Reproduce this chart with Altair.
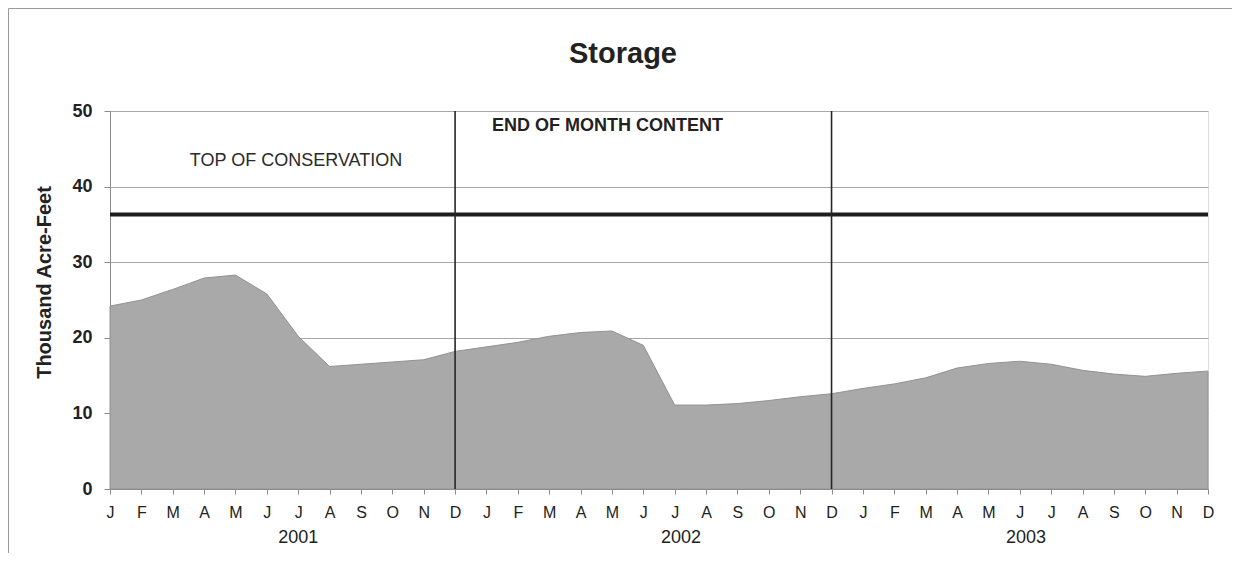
import altair as alt
import pandas as pd

# ---- data ----
months = ["J", "F", "M", "A", "M", "J", "J", "A", "S", "O", "N", "D"]
years = ["2001", "2002", "2003"]
storage = [24.2, 25.0, 26.4, 27.9, 28.3, 25.8, 20.2, 16.2, 16.5, 16.8, 17.1, 18.2,
           18.8, 19.4, 20.2, 20.7, 20.9, 19.0, 11.1, 11.1, 11.3, 11.7, 12.2, 12.6,
           13.3, 13.9, 14.7, 16.0, 16.6, 16.9, 16.5, 15.7, 15.2, 14.9, 15.3, 15.6]
top_of_conservation = 36.3
year_breaks = [11, 23]          # month index of the vertical separators
year_label_pos = [6.0, 18.2, 29.2]
annot_text = ["TOP OF CONSERVATION", "END OF MONTH CONTENT"]
annot_x = [5.93, 12.18]
annot_y = [42.7, 47.4]

FONT = "Liberation Sans"
W, H = 1098, 378

df = pd.DataFrame({"idx": list(range(len(storage))), "value": storage})
df_breaks = pd.DataFrame({"idx": year_breaks})
df_toc = pd.DataFrame({"v": [top_of_conservation]})
df_years = pd.DataFrame({"idx": year_label_pos, "year": years})
df_annot0 = pd.DataFrame({"idx": [annot_x[0]], "v": [annot_y[0]], "t": [annot_text[0]]})
df_annot1 = pd.DataFrame({"idx": [annot_x[1]], "v": [annot_y[1]], "t": [annot_text[1]]})

month_expr = "[" + ",".join(f"'{m}'" for m in months) + "][datum.value % 12]"

xscale = alt.Scale(domain=[0, 35], nice=False, zero=False)
yscale = alt.Scale(domain=[0, 50], nice=False)

x_axis = alt.Axis(values=list(range(36)), labelExpr=month_expr, grid=False,
                  title=None, labelFont=FONT, labelFontSize=16, labelColor="#222",
                  labelPadding=10, tickSize=5, tickColor="#8a8a8a",
                  domainColor="#8a8a8a", labelFlush=False, labelOverlap=False,
                  labelSeparation=0, labelBound=False)
y_axis = alt.Axis(values=[0, 10, 20, 30, 40, 50], title="Thousand Acre-Feet",
                  titleFont=FONT, titleFontSize=20, titleFontWeight="bold",
                  titleColor="#222", titleAngle=-90, titleX=-66, titleY=171,
                  titleAlign="center", titleBaseline="middle",
                  labelFont=FONT, labelFontSize=18, labelFontWeight="bold",
                  labelColor="#222", labelPadding=12, tickSize=6,
                  tickColor="#8a8a8a", domainColor="#8a8a8a",
                  grid=True, gridColor="#a8a8a8", gridWidth=1)


def X(field):
    return alt.X(field, scale=xscale, axis=x_axis)


def Y(field):
    return alt.Y(field, scale=yscale, axis=y_axis)


area = alt.Chart(df).mark_area(color="#a9a9a9", stroke="#929292", strokeWidth=1).encode(
    x=X("idx:Q"), y=Y("value:Q"))

toc = alt.Chart(df_toc).mark_rule(color="#1e1e1e", strokeWidth=4).encode(y=Y("v:Q"))

breaks = alt.Chart(df_breaks).mark_rule(color="#262626", strokeWidth=1.6).encode(x=X("idx:Q"))

annot0 = alt.Chart(df_annot0).mark_text(font=FONT, fontSize=18, color="#2a2a2a",
                                         align="center", baseline="alphabetic").encode(
    x=X("idx:Q"), y=Y("v:Q"), text="t:N")
annot1 = alt.Chart(df_annot1).mark_text(font=FONT, fontSize=18, fontWeight="bold",
                                         color="#222", align="left",
                                         baseline="alphabetic").encode(
    x=X("idx:Q"), y=Y("v:Q"), text="t:N")

year_text = alt.Chart(df_years).mark_text(font=FONT, fontSize=18, color="#222",
                                          align="center", baseline="alphabetic").encode(
    x=X("idx:Q"), y=alt.value(H + 54), text="year:N")

frame = alt.Chart(df_toc).mark_rect(fillOpacity=0, stroke="#9a9a9a", strokeWidth=1).encode(
    x=alt.value(-101.5), x2=alt.value(W + 40), y=alt.value(-102.5), y2=alt.value(H + 68))

chart = alt.layer(frame, area, toc, breaks, annot0, annot1, year_text).properties(
    width=W, height=H,
    title=alt.TitleParams("Storage", font=FONT, fontSize=29, fontWeight="bold",
                          color="#222", anchor="middle", dx=-36, offset=-84,
                          frame="group", baseline="alphabetic"),
    padding={"left": 102, "top": 103, "right": 24, "bottom": 64},
    autosize=alt.AutoSizeParams(type="none"),
).configure_view(stroke="#a8a8a8", strokeWidth=1).configure(background="white")

chart.save("out.html", embed_options={"renderer": "svg", "actions": False})
